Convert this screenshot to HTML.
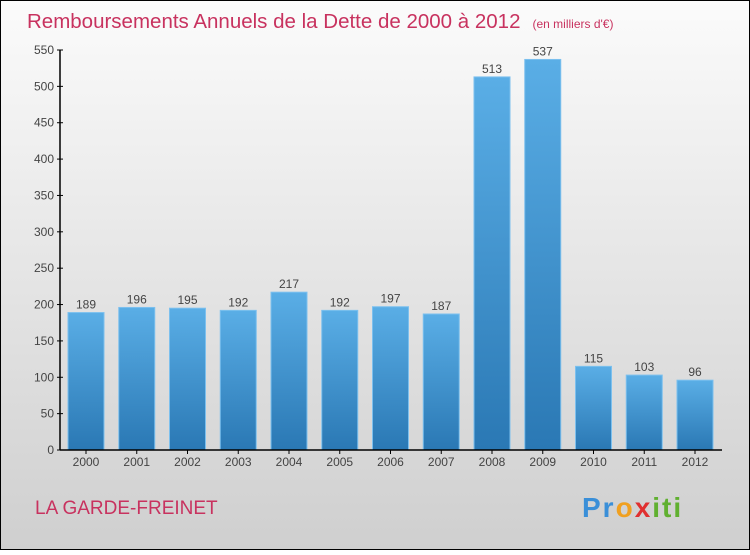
<!DOCTYPE html>
<html><head><meta charset="utf-8"><style>
html,body{margin:0;padding:0}
body{width:750px;height:550px;overflow:hidden;font-family:"Liberation Sans",sans-serif}
</style></head><body>
<svg width="750" height="550" xmlns="http://www.w3.org/2000/svg">
<defs>
<linearGradient id="bg" x1="0" y1="0" x2="0" y2="1"><stop offset="0" stop-color="#fbfbfb"/><stop offset="1" stop-color="#cfcfcf"/></linearGradient>
<linearGradient id="bar" x1="0" y1="0" x2="0" y2="1"><stop offset="0" stop-color="#5aaee6"/><stop offset="1" stop-color="#2a78b4"/></linearGradient>
</defs>
<rect x="0.5" y="0.5" width="749" height="549" fill="url(#bg)" stroke="#000"/>
<text x="27" y="28" font-size="20.5" fill="#c8325f">Remboursements Annuels de la Dette de 2000 à 2012<tspan font-size="12" dx="12">(en milliers d'€)</tspan></text>
<g id="yaxis"></g>
<g id="bars"></g>
<g id="xaxis"></g>
<text x="35" y="514" font-size="19" fill="#c8325f">LA GARDE-FREINET</text>
<text x="582" y="517" font-size="28" font-weight="bold" letter-spacing="2"><tspan fill="#3a8fd8">Pr</tspan><tspan fill="#f0a020">o</tspan><tspan fill="#e03030">x</tspan><tspan fill="#60b030">iti</tspan></text>
</svg>
<script>
const categories=["2000","2001","2002","2003","2004","2005","2006","2007","2008","2009","2010","2011","2012"];
const values=[189,196,195,192,217,192,197,187,513,537,115,103,96];
const yTicks=[0,50,100,150,200,250,300,350,400,450,500,550];
const NS="http://www.w3.org/2000/svg";
const y0=450,yTop=50,yMax=550,x0=60,xStep=50.75,xFirst=86,bw=36;
const y=v=>y0-(v/yMax)*(y0-yTop);
const x=i=>xFirst+i*xStep;
function mk(tag,attrs,parent){const e=document.createElementNS(NS,tag);for(const k in attrs)e.setAttribute(k,attrs[k]);parent.appendChild(e);return e;}
const ya=document.getElementById('yaxis'),bg=document.getElementById('bars'),xa=document.getElementById('xaxis');
let l=mk('line',{x1:x0,y1:yTop,x2:x0,y2:y0,stroke:'#000','stroke-width':1.5},ya);


yTicks.forEach(t=>{
 const tk=mk('line',{x1:x0-3,x2:x0+3,y1:y(t),y2:y(t),stroke:'#000'},ya);
 
 
 const tx=mk('text',{x:x0-6,y:y(t)+4,'text-anchor':'end','font-size':12,fill:'#444'},ya);
 tx.textContent=t;
 
 
});
const xl=mk('line',{x1:x0,y1:y0,x2:722,y2:y0,stroke:'#000','stroke-width':1.5},xa);


categories.forEach((c,i)=>{
 const r=mk('rect',{x:x(i)-bw/2,y:y(values[i]),width:bw,height:y0-y(values[i]),fill:'url(#bar)',stroke:'#7cc0ee','stroke-width':1},bg);
 
 
 const v=mk('text',{x:x(i),y:y(values[i])-4,'text-anchor':'middle','font-size':12,fill:'#444'},bg);
 v.textContent=values[i];
 
 
 const tk=mk('line',{x1:x(i),x2:x(i),y1:y0,y2:y0+4,stroke:'#000'},xa);
 
 
 const t=mk('text',{x:x(i),y:y0+16,'text-anchor':'middle','font-size':12,fill:'#444'},xa);
 t.textContent=c;
 
 
});
</script>
</body></html>
